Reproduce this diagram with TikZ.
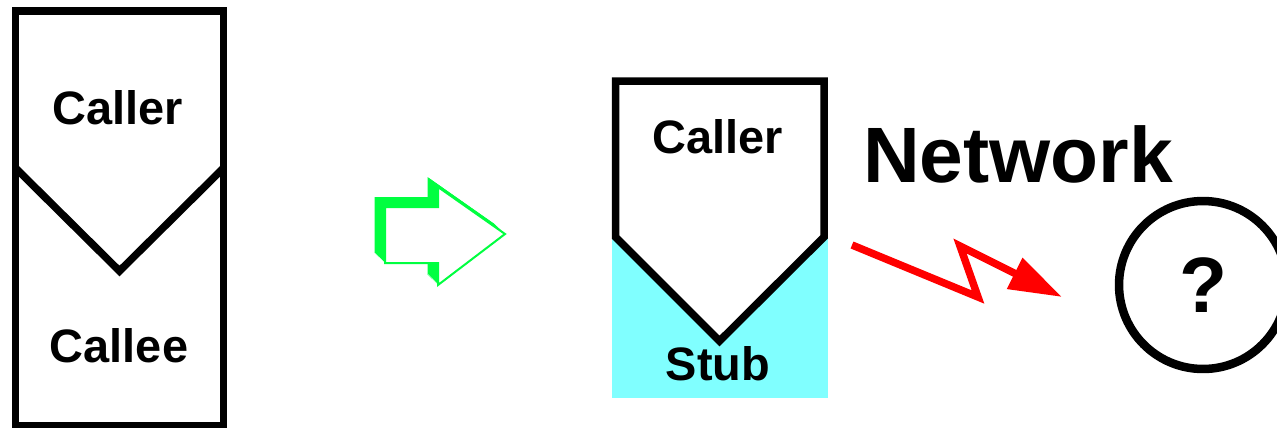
\documentclass[tikz,border=0pt]{standalone}
\usepackage{fontspec}
\setmainfont{Liberation Sans}
\usetikzlibrary{arrows.meta}
\definecolor{stubcyan}{RGB}{128,255,255}
\definecolor{turngreen}{RGB}{0,255,64}

\begin{document}
\begin{tikzpicture}[x=0.02cm, y=-0.02cm,
    box/.style={line width=0.15cm, line join=miter},
    lbl/.style={anchor=base, inner sep=0pt, font=\bfseries\fontsize{26.7}{30}\selectfont},
    big/.style={inner sep=0pt, font=\bfseries\fontsize{44.7}{50}\selectfont},
    zap/.style={red, line width=0.15cm, line join=miter, -{Triangle[length=1.06cm, width=0.66cm]}}]
  \useasboundingbox (0,0) rectangle (1277,427);

  \draw[box] (15.5,11) rectangle (223.5,426);
  \draw[box] (15.5,168) -- (119.5,271) -- (223.5,168);
  \node[lbl] (caller1) at (118,124) {Caller};
  \node[lbl] (callee) at (119,362) {Callee};

  \foreach \s in {1, ..., 10} {
    \fill[turngreen, shift={(-1.05*\s, -\s)}] (385,207) -- (438,207) -- (438,187) -- (505,234) -- (438,285) -- (438,263) -- (385,263) -- cycle;
  }
  \filldraw[fill=white, draw=turngreen, line width=0.04cm] (385,207) -- (438,207) -- (438,187) -- (505,234) -- (438,285) -- (438,263) -- (385,263) -- cycle;

  \fill[stubcyan] (612,237) rectangle (828,398);
  \filldraw[box, fill=white] (615.5,81) -- (824,81) -- (824,237) -- (719.5,341) -- (615.5,237) -- cycle;
  \node[lbl] (caller2) at (718,153) {Caller};
  \node[lbl] (stub) at (718,380) {Stub};

  \node[big, anchor=base] (network) at (1018,182) {Network};
  \node[big, draw, circle, line width=0.17cm, minimum size=3.36cm] (remote) at (1203,285) {?};

  \coordinate (z0) at (852,245);
  \coordinate (z1) at (978,297);
  \coordinate (z2) at (960,246);
  \coordinate (z3) at (1062,297);
  \draw[zap] (z0) -- (z1) -- (z2) -- (z3);
\end{tikzpicture}
\end{document}
